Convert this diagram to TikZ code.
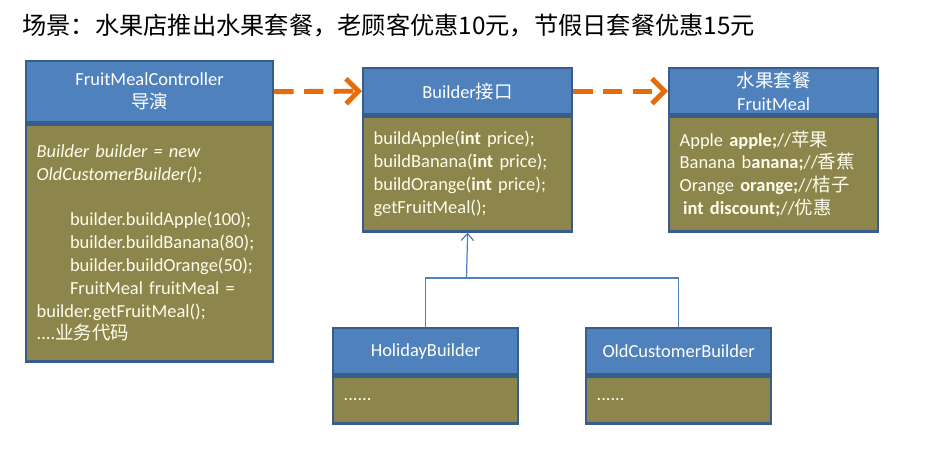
\documentclass[tikz,border=0pt]{standalone}
\usepackage{fontspec}
\setmainfont{Carlito}
\newfontfamily\cjk{Noto Sans CJK SC}
\usepackage{xcolor}
\usepackage{tikz}
\usetikzlibrary{arrows.meta,positioning}
\definecolor{hdblue}{HTML}{4F81BD}
\definecolor{bdblue}{HTML}{385D8A}
\definecolor{olivebody}{HTML}{8C864D}
\definecolor{deporange}{HTML}{E46C0A}

\begin{document}
\begin{tikzpicture}[x=0.02cm,y=-0.02cm,font=\fontsize{10.5}{13}\selectfont,
  clshead/.style={draw=bdblue,line width=1.3pt,fill=hdblue,text=white,align=center,inner sep=0pt,anchor=north west},
  clsbody/.style={draw=bdblue,line width=1.3pt,fill=olivebody,text=white!92!yellow,align=left,inner xsep=6pt,inner ysep=0pt,text width=#1},
  dep/.style={-{Straight Barb[length=2.5mm,width=5mm]},deporange,line width=2.8pt,dash pattern=on 11pt off 6pt},
  inh/.style={hdblue,line width=0.7pt},node distance=0pt]
  \useasboundingbox (0,0) rectangle (925,458);
  \node[anchor=west,inner sep=0pt,font=\cjk\fontsize{13.8}{16}\selectfont](title) at (22,25){场景：水果店推出水果套餐，老顾客优惠10元，节假日套餐优惠15元};
  % director
  \node[clshead,minimum width=4.94cm,minimum height=1.22cm](ctrl) at (25,60){FruitMealController\\{\cjk 导演}};
  \node[clsbody=4.52cm,minimum height=4.74cm,below=of ctrl](ctrlb){\textit{Builder builder = new}\\
    \textit{OldCustomerBuilder();}\\[13pt]
    \hspace*{19pt}builder.buildApple(100);\\
    \hspace*{19pt}builder.buildBanana(80);\\
    \hspace*{19pt}builder.buildOrange(50);\\
    \hspace*{19pt}FruitMeal fruitMeal =\\
    builder.getFruitMeal();\\
    ....{\cjk 业务代码}};
  % builder interface
  \node[clshead,minimum width=4.18cm,minimum height=0.92cm](bld) at (362,67){Builder{\cjk 接口}};
  \node[clsbody=3.76cm,minimum height=2.3cm,below=of bld](bldb){buildApple(\textbf{int} price);\\
    buildBanana(\textbf{int} price);\\
    buildOrange(\textbf{int} price);\\
    getFruitMeal();};
  % product
  \node[clshead,minimum width=4.18cm,minimum height=0.92cm](meal) at (668,67){{\cjk 水果套餐}\\FruitMeal};
  \node[clsbody=3.76cm,minimum height=2.3cm,below=of meal](mealb){Apple \textbf{apple;}//{\cjk 苹果}\\
    Banana b\textbf{anana;}//{\cjk 香蕉}\\
    Orange \textbf{orange;}//{\cjk 桔子}\\
    \hspace*{2pt}\textbf{int discount;}//{\cjk 优惠}};
  % concrete builders
  \node[clshead,minimum width=3.7cm,minimum height=0.92cm](hol) at (332,327){HolidayBuilder};
  \node[clsbody=3.28cm,minimum height=0.94cm,below=of hol](holb){......};
  \node[clshead,minimum width=3.7cm,minimum height=0.92cm](old) at (585,327){OldCustomerBuilder};
  \node[clsbody=3.28cm,minimum height=0.94cm,below=of old](oldb){......};
  \coordinate (j) at (466.5,278);
  \draw[dep](ctrl.east)--(bld.west);\draw[dep](bld.east)--(meal.west);
  \draw[inh](hol.north)|-(j)-|(old.north);
  \draw[inh,-{Straight Barb[length=4pt,width=7pt]}](j)--(bldb.south);
\end{tikzpicture}
\end{document}
